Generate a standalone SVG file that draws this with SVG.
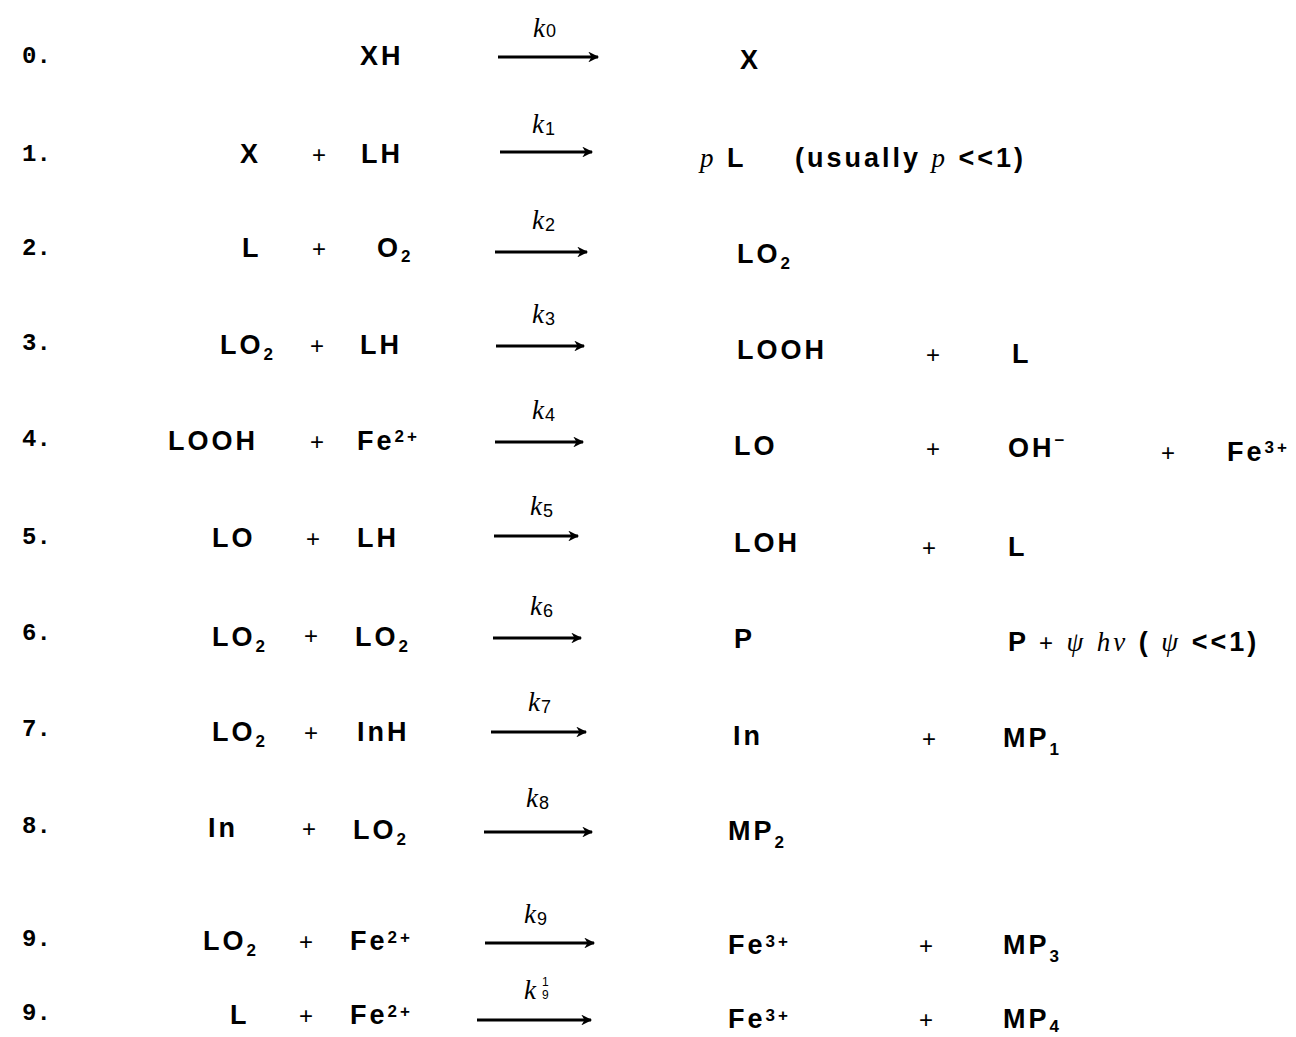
<svg xmlns="http://www.w3.org/2000/svg" width="1296" height="1037" viewBox="0 0 1296 1037">
<style>
text{font-family:"Liberation Sans",Arial,sans-serif;font-size:27px;font-weight:bold;letter-spacing:3px;fill:#000}
.n{font-family:"Liberation Mono","DejaVu Sans Mono",monospace;font-size:24px;letter-spacing:0}
.k{font-family:"Liberation Serif",serif;font-style:italic;font-weight:normal;font-size:27px;letter-spacing:1px}
.ks{font-family:"Liberation Sans",sans-serif;font-style:normal;font-weight:normal;font-size:18px;letter-spacing:0}
.i{font-family:"Liberation Serif",serif;font-style:italic;font-weight:normal}
.sub{font-size:17px}
.sup{font-size:17px}
.p{font-weight:normal;font-size:24px}
.arr{stroke:#000;stroke-width:3;fill:none}
</style>
<defs>
<marker id="ah" viewBox="0 0 10 10" refX="9" refY="5" markerWidth="4" markerHeight="3.6" orient="auto" markerUnits="strokeWidth">
<path d="M0,0 L10,5 L0,10 L3,5 Z" fill="#000"/>
</marker>
</defs>
<g id="connectors">
<line class="arr" x1="498" y1="57" x2="598" y2="57" marker-end="url(#ah)"/>
<line class="arr" x1="500" y1="152" x2="592" y2="152" marker-end="url(#ah)"/>
<line class="arr" x1="495" y1="252" x2="587" y2="252" marker-end="url(#ah)"/>
<line class="arr" x1="496" y1="346" x2="584" y2="346" marker-end="url(#ah)"/>
<line class="arr" x1="495" y1="442" x2="583" y2="442" marker-end="url(#ah)"/>
<line class="arr" x1="494" y1="536" x2="578" y2="536" marker-end="url(#ah)"/>
<line class="arr" x1="493" y1="638" x2="581" y2="638" marker-end="url(#ah)"/>
<line class="arr" x1="491" y1="732" x2="586" y2="732" marker-end="url(#ah)"/>
<line class="arr" x1="484" y1="832" x2="592" y2="832" marker-end="url(#ah)"/>
<line class="arr" x1="485" y1="943" x2="594" y2="943" marker-end="url(#ah)"/>
<line class="arr" x1="477" y1="1020" x2="591" y2="1020" marker-end="url(#ah)"/>
</g>
<g id="r0">
<text class="n" x="22" y="63">0.</text>
<text x="360" y="65" letter-spacing="8">XH</text>
<text class="k" x="533" y="37">k<tspan class="ks" dy="0">0</tspan></text>
<text x="740" y="69">X</text>
</g>
<g id="r1">
<text class="n" x="22" y="161">1.</text>
<text x="240" y="163">X</text>
<text class="p" x="312" y="163">+</text>
<text x="361" y="163">LH</text>
<text class="k" x="532" y="133">k<tspan class="ks" dy="2">1</tspan></text>
<text x="700" y="167"><tspan class="i">p</tspan> L<tspan x="795">(usually <tspan class="i">p</tspan> &lt;&lt;1)</tspan></text>
</g>
<g id="r2">
<text class="n" x="22" y="255">2.</text>
<text x="242" y="257">L</text>
<text class="p" x="312" y="257">+</text>
<text x="377" y="257">O<tspan class="sub" dy="5">2</tspan></text>
<text class="k" x="532" y="229">k<tspan class="ks" dy="2">2</tspan></text>
<text x="737" y="263">LO<tspan class="sub" dy="6">2</tspan></text>
</g>
<g id="r3">
<text class="n" x="22" y="350">3.</text>
<text x="220" y="354">LO<tspan class="sub" dy="6">2</tspan></text>
<text class="p" x="310" y="354">+</text>
<text x="360" y="354">LH</text>
<text class="k" x="532" y="323">k<tspan class="ks" dy="2">3</tspan></text>
<text x="737" y="359">LOOH</text>
<text class="p" x="926" y="363">+</text>
<text x="1012" y="363">L</text>
</g>
<g id="r4">
<text class="n" x="22" y="446">4.</text>
<text x="168" y="450">LOOH</text>
<text class="p" x="310" y="450">+</text>
<text x="357" y="450">Fe<tspan class="sup" dy="-8">2+</tspan></text>
<text class="k" x="532" y="419">k<tspan class="ks" dy="2">4</tspan></text>
<text x="734" y="455">LO</text>
<text class="p" x="926" y="457">+</text>
<text x="1008" y="457">OH<tspan class="sup" dy="-11">−</tspan></text>
<text class="p" x="1161" y="461">+</text>
<text x="1227" y="461" letter-spacing="1">Fe<tspan class="sup" dy="-8">3+</tspan></text>
</g>
<g id="r5">
<text class="n" x="22" y="544">5.</text>
<text x="212" y="547">LO</text>
<text class="p" x="306" y="547">+</text>
<text x="357" y="547">LH</text>
<text class="k" x="530" y="515">k<tspan class="ks" dy="2">5</tspan></text>
<text x="734" y="552">LOH</text>
<text class="p" x="922" y="556">+</text>
<text x="1008" y="556">L</text>
</g>
<g id="r6">
<text class="n" x="22" y="640">6.</text>
<text x="212" y="646">LO<tspan class="sub" dy="6">2</tspan></text>
<text class="p" x="304" y="644">+</text>
<text x="355" y="646">LO<tspan class="sub" dy="6">2</tspan></text>
<text class="k" x="530" y="615">k<tspan class="ks" dy="2">6</tspan></text>
<text x="734" y="648">P</text>
<text x="1008" y="651" letter-spacing="2.8">P <tspan class="p">+</tspan> <tspan class="i">ψ</tspan> <tspan class="i">hν</tspan> ( <tspan class="i">ψ</tspan> &lt;&lt;1)</text>
</g>
<g id="r7">
<text class="n" x="22" y="736">7.</text>
<text x="212" y="741">LO<tspan class="sub" dy="6">2</tspan></text>
<text class="p" x="304" y="741">+</text>
<text x="357" y="741">InH</text>
<text class="k" x="528" y="711">k<tspan class="ks" dy="2">7</tspan></text>
<text x="733" y="745">In</text>
<text class="p" x="922" y="747">+</text>
<text x="1003" y="747">MP<tspan class="sub" dy="8">1</tspan></text>
</g>
<g id="r8">
<text class="n" x="22" y="833">8.</text>
<text x="208" y="837">In</text>
<text class="p" x="302" y="837">+</text>
<text x="353" y="839">LO<tspan class="sub" dy="6">2</tspan></text>
<text class="k" x="526" y="807">k<tspan class="ks" dy="2">8</tspan></text>
<text x="728" y="840">MP<tspan class="sub" dy="8">2</tspan></text>
</g>
<g id="r9">
<text class="n" x="22" y="946">9.</text>
<text x="203" y="950">LO<tspan class="sub" dy="6">2</tspan></text>
<text class="p" x="299" y="950">+</text>
<text x="350" y="950">Fe<tspan class="sup" dy="-7">2+</tspan></text>
<text class="k" x="524" y="923">k<tspan class="ks" dy="2">9</tspan></text>
<text x="728" y="954">Fe<tspan class="sup" dy="-7">3+</tspan></text>
<text class="p" x="919" y="954">+</text>
<text x="1003" y="954">MP<tspan class="sub" dy="8">3</tspan></text>
</g>
<g id="r9b">
<text class="n" x="22" y="1020">9.</text>
<text x="230" y="1024">L</text>
<text class="p" x="299" y="1024">+</text>
<text x="350" y="1024">Fe<tspan class="sup" dy="-7">2+</tspan></text>
<text class="k" x="524" y="999">k</text>
<text class="ks" x="542" y="986" style="font-size:12px">1</text>
<text class="ks" x="542" y="999" style="font-size:12px">9</text>
<text x="728" y="1028">Fe<tspan class="sup" dy="-7">3+</tspan></text>
<text class="p" x="919" y="1028">+</text>
<text x="1003" y="1028">MP<tspan class="sub" dy="4">4</tspan></text>
</g>
</svg>
